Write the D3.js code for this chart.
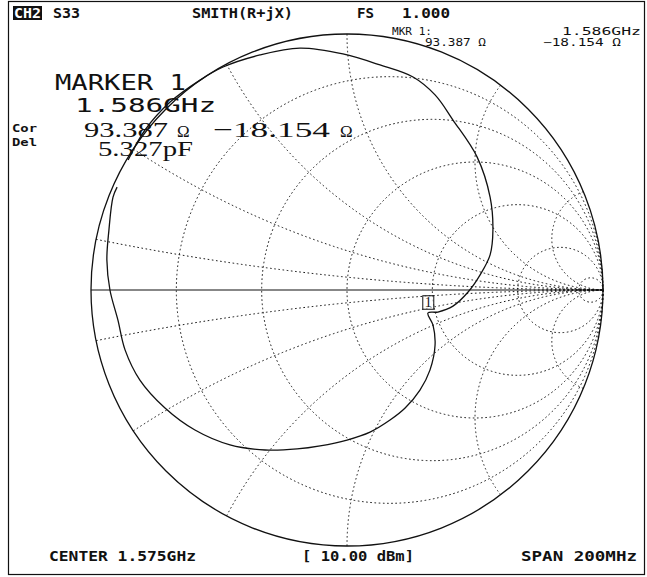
<!DOCTYPE html>
<html><head><meta charset="utf-8">
<script src="https://cdn.jsdelivr.net/npm/d3@7"></script>
<style>
html,body{margin:0;padding:0;background:#fff}
svg{display:block}
</style></head>
<body>
<svg id="chart" width="647" height="577"></svg>
<script>
// ---------- data ----------
const resistanceValues = [0.2, 0.5, 1, 2, 5, 20];
const reactanceValues = [0.1, 0.3, 0.6, 1, 2, 5];
// measured S33 trace, reflection coefficient (real, imag), in sweep order
const traceRe = [-0.855,-0.789,-0.691,-0.574,-0.484,-0.340,-0.184,-0.016,0.129,0.258,0.344,0.414,0.508,0.559,0.570,0.559,0.520,0.473,0.414,0.355,0.316,0.336,0.344,0.324,0.285,0.227,0.168,0.090,0.000,-0.105,-0.195,-0.320,-0.457,-0.594,-0.711,-0.809,-0.867,-0.895,-0.926,-0.938,-0.930,-0.914,-0.898];
const traceIm = [0.508,0.625,0.734,0.820,0.871,0.918,0.945,0.922,0.879,0.832,0.762,0.664,0.520,0.363,0.234,0.137,0.059,-0.008,-0.063,-0.086,-0.090,-0.137,-0.215,-0.313,-0.391,-0.461,-0.508,-0.555,-0.586,-0.609,-0.621,-0.625,-0.605,-0.547,-0.461,-0.352,-0.234,-0.117,0.000,0.117,0.234,0.363,0.402];
const z0 = 50;
const markerLabel = "1";
const markerFreq = "1.586GHz";
const markerR = 93.387;
const markerX = -18.154;
const markerCap = "5.327pF";
const headerLabels = ["CH2", "S33", "SMITH(R+jX)", "FS", "1.000"];
const footerLabels = ["CENTER 1.575GHz", "[ 10.00 dBm]", "SPAN 200MHz"];
const sideLabels = ["Cor", "Del"];

// ---------- layout ----------
const svg = d3.select("#chart");
const cx = 347, cy = 290, R = 256;
const sx = d3.scaleLinear().domain([-1, 1]).range([cx - R, cx + R]);
const sy = d3.scaleLinear().domain([-1, 1]).range([cy + R, cy - R]);
const ink = "#111";

svg.append("rect").attr("x", 8.5).attr("y", 1.5).attr("width", 636).attr("height", 573)
  .attr("fill", "none").attr("stroke", ink).attr("stroke-width", 1.2);

function gamma(r, x) {
  const dr = r + 1, nr = r - 1;
  const d = dr * dr + x * x;
  return [(nr * dr + x * x) / d, (x * dr - nr * x) / d];
}

const grid = svg.append("g").attr("fill", "none").attr("stroke", ink)
  .attr("stroke-width", 1).attr("stroke-dasharray", "1.6,2.6");

grid.selectAll("circle.r").data(resistanceValues).join("circle")
  .attr("class", "r")
  .attr("cx", r => sx(r / (1 + r)))
  .attr("cy", sy(0))
  .attr("r", r => sx(1 / (1 + r)) - sx(0));

const tSteps = d3.range(0, 1, 0.002);
const arcLine = d3.line().x(d => sx(d[0])).y(d => sy(d[1]));
const arcs = [];
reactanceValues.forEach(x => { arcs.push(x); arcs.push(-x); });
grid.selectAll("path.x").data(arcs).join("path")
  .attr("class", "x")
  .attr("d", x => arcLine(tSteps.map(t => gamma(t / (1 - t), x))));

svg.append("circle").attr("cx", sx(0)).attr("cy", sy(0)).attr("r", sx(1) - sx(0))
  .attr("fill", "none").attr("stroke", ink).attr("stroke-width", 1.3);
svg.append("line").attr("x1", sx(-1)).attr("x2", sx(1)).attr("y1", sy(0)).attr("y2", sy(0))
  .attr("stroke", ink).attr("stroke-width", 1.2);

const tracePts = traceRe.map((v, i) => [v, traceIm[i]]);
svg.append("path")
  .attr("d", d3.line().x(d => sx(d[0])).y(d => sy(d[1])).curve(d3.curveCatmullRom.alpha(0.5))(tracePts))
  .attr("fill", "none").attr("stroke", ink).attr("stroke-width", 1.3);

const mg = gamma(markerR / z0, markerX / z0);
const mx = sx(mg[0]), my = sy(mg[1]);
svg.append("rect").attr("x", mx - 4.5).attr("y", my - 16.5).attr("width", 11).attr("height", 13.5)
  .attr("fill", "#fff").attr("fill-opacity", 0.6).attr("stroke", ink).attr("stroke-width", 1);
svg.append("text").attr("x", mx + 1).attr("y", my - 5).attr("text-anchor", "middle")
  .attr("font-family", "Liberation Serif").attr("font-size", 14).attr("fill", ink).text(markerLabel);

function txt(s, x, y, opts) {
  const t = svg.append("text").attr("x", x).attr("y", y).text(s)
    .attr("font-family", opts.family || "DejaVu Sans Mono")
    .attr("font-size", opts.size || 14)
    .attr("font-weight", opts.weight || "normal")
    .attr("fill", opts.fill || ink);
  if (opts.len) t.attr("textLength", opts.len).attr("lengthAdjust", "spacingAndGlyphs");
  return t;
}
function ohmTxt(num, x, y, size, numLen, gap, omSize) {
  txt(num, x, y, {size: size, family: "Liberation Serif", len: numLen});
  txt("\u03A9", x + numLen + gap, y, {size: omSize, family: "Liberation Serif"});
}
const hb = {weight: "bold", size: 14, family: "DejaVu Sans Mono"};
svg.append("rect").attr("x", 13).attr("y", 6).attr("width", 29).attr("height", 14).attr("fill", ink);
txt(headerLabels[0], 14, 18, {...hb, fill: "#fff", len: 27});
txt(headerLabels[1], 53, 18, {...hb, len: 27});
txt(headerLabels[2], 192, 18, {...hb, len: 101});
txt(headerLabels[3], 357, 18, {...hb, len: 17});
txt(headerLabels[4], 402, 18, {...hb, len: 48});

const sm = {size: 10, family: "DejaVu Sans Mono"};
txt("MKR  1:", 392, 35, {...sm, len: 40});
txt(markerFreq, 562, 35, {...sm, len: 79});
txt(d3.format(".3f")(markerR) + " \u03A9", 425, 46, {...sm, len: 61});
txt("\u2212" + d3.format(".3f")(Math.abs(markerX)) + " \u03A9", 543, 46, {...sm, len: 78});

txt("MARKER " + markerLabel, 55, 90, {size: 21, family: "DejaVu Sans Mono", len: 131});
txt(markerFreq, 75, 112, {size: 20, family: "DejaVu Sans Mono", len: 141});
ohmTxt(d3.format(".3f")(markerR), 84, 137, 22, 84, 9, 17);
ohmTxt("\u2212" + d3.format(".3f")(Math.abs(markerX)), 213, 137, 22, 117, 10, 17);
txt(markerCap, 98, 156, {size: 22, family: "Liberation Serif", len: 95});

txt(sideLabels[0], 12, 132, {weight: "bold", size: 11, len: 25});
txt(sideLabels[1], 12, 146, {weight: "bold", size: 11, len: 25});

txt(footerLabels[0], 49, 561, {...hb, len: 147});
txt(footerLabels[1], 302, 561, {...hb, len: 112});
txt(footerLabels[2], 521, 561, {...hb, len: 116});
</script>
</body></html>
